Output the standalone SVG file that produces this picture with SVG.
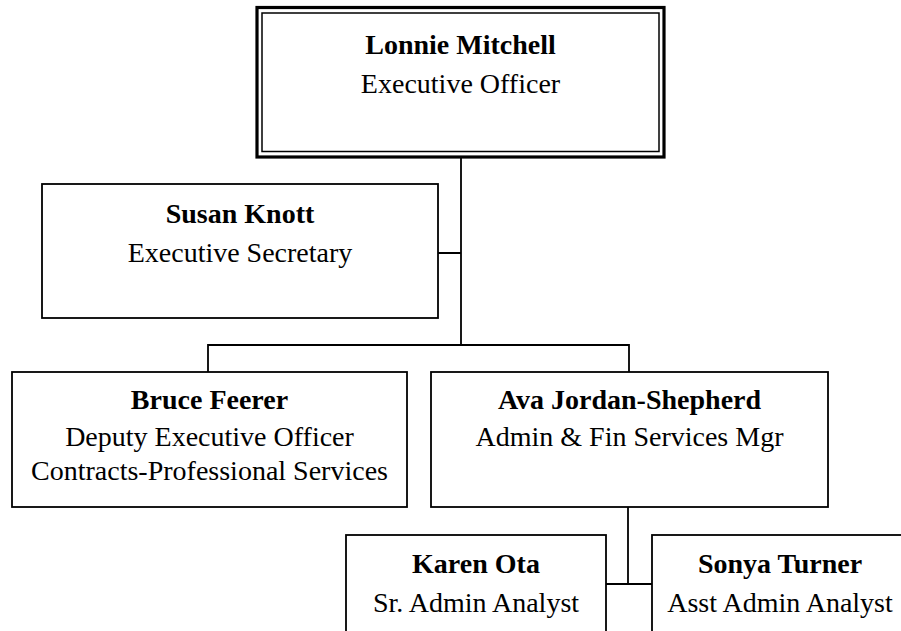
<svg xmlns="http://www.w3.org/2000/svg" width="901" height="631" viewBox="0 0 901 631">
<style>
.box{fill:#fff;stroke:#000;stroke-width:1.8}
.conn{fill:none;stroke:#000;stroke-width:1.8}
text{font-family:"Liberation Serif","Times New Roman",serif;font-size:28px;fill:#000;text-anchor:middle}
.n{font-weight:bold}
</style>
<rect width="901" height="631" fill="#fff"/>
<g id="connectors">
<path class="conn" d="M461 157V345M438 253H461M208 372V345H629V372M628 507V584M606 584H652"/>
</g>
<g id="lonnie">
<rect x="257" y="7.5" width="407" height="149.5" fill="#fff" stroke="#000" stroke-width="3.2"/>
<rect x="262" y="13" width="397" height="138.5" fill="none" stroke="#000" stroke-width="1.5"/>
<text class="n" x="460.5" y="54">Lonnie Mitchell</text>
<text x="460.5" y="93">Executive Officer</text>
</g>
<g id="susan">
<rect class="box" x="42" y="184" width="396" height="134"/>
<text class="n" x="240" y="223">Susan Knott</text>
<text x="240" y="262">Executive Secretary</text>
</g>
<g id="bruce">
<rect class="box" x="12" y="372" width="395" height="135"/>
<text class="n" x="209.5" y="409">Bruce Feerer</text>
<text x="209.5" y="446">Deputy Executive Officer</text>
<text x="209.5" y="480">Contracts-Professional Services</text>
</g>
<g id="ava">
<rect class="box" x="431" y="372" width="397" height="135"/>
<text class="n" x="629.5" y="409">Ava Jordan-Shepherd</text>
<text x="629.5" y="446">Admin &amp; Fin Services Mgr</text>
</g>
<g id="karen">
<rect class="box" x="346" y="535" width="260" height="110"/>
<text class="n" x="476" y="573">Karen Ota</text>
<text x="476" y="612">Sr. Admin Analyst</text>
</g>
<g id="sonya">
<rect class="box" x="652" y="535" width="256" height="110"/>
<text class="n" x="780" y="573">Sonya Turner</text>
<text x="780" y="612">Asst Admin Analyst</text>
</g>
</svg>
